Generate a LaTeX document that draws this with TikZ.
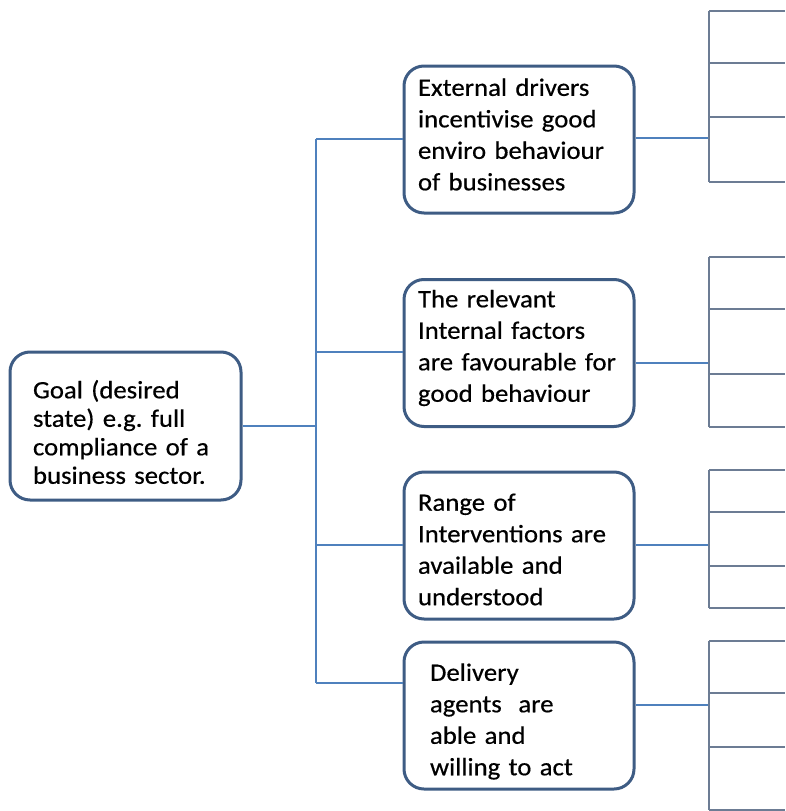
\documentclass[tikz,border=0pt]{standalone}
\usepackage{fontspec}
\setmainfont{Carlito}[FakeStretch=1.07, FakeBold=0.5]
\definecolor{boxblue}{RGB}{62,92,132}
\definecolor{linkblue}{RGB}{79,129,189}
\definecolor{stubgray}{RGB}{108,124,148}

\tikzset{
    goalbox/.style={draw=boxblue, line width=3pt, rounded corners=20pt, fill=white,
        minimum height=148pt, text width=185pt, inner xsep=23pt, align=left,
        font=\fontsize{25}{28.5}\selectfont},
    factorbox/.style={draw=boxblue, line width=3pt, rounded corners=20pt, fill=white,
        minimum height=147pt, text width=202pt, inner xsep=14pt, align=left,
        font=\fontsize{25}{31.5}\selectfont},
    textlift/.style={execute at end node={\par\vspace*{#1}}},
    link/.style={draw=linkblue, line width=1.3pt},
    stub/.style={draw=stubgray, line width=1.3pt}
}

\begin{document}
\begin{tikzpicture}[x=1pt, y=-1pt]
    \useasboundingbox (0,0) rectangle (785,811);
    % Goal and the four conditions.
    \begin{scope}
        \node[goalbox, textlift=-12pt] (goal) at (125.5,426) {Goal (desired\\state) e.g.\ full\\compliance of a\\business sector.};
        \node[factorbox, textlift=10pt] (drv) at (519,139.5) {External drivers\\incentivise good\\enviro behaviour\\of businesses};
        \node[factorbox, textlift=10pt] (intf) at (519,353) {The relevant\\Internal factors\\are favourable for\\good behaviour};
        \node[factorbox, textlift=-8pt] (intv) at (519,545.5) {Range of\\Interventions are\\available and\\understood};
        \node[factorbox, textlift=-12pt, text width=178pt, inner xsep=26pt] (agt) at (519,715.5) {Delivery\\agents\ \ are\\able and\\willing to act};
    \end{scope}
    % Tree links on the left.
    \coordinate (t1) at (316,139);
    \coordinate (t2) at (316,352);
    \coordinate (t3) at (316,545);
    \coordinate (t4) at (316,683);
    \draw[link] (goal.east) -- (goal.east -| t1);
    \draw[link] (t1) -- (t4);
    \foreach \t/\b in {t1/drv, t2/intf, t3/intv, t4/agt}
        \draw[link] (\t) -- (\t -| \b.west);
    % Links to the cut-off columns on the right.
    \coordinate (s1) at (709,138);
    \coordinate (s2) at (709,363);
    \coordinate (s3) at (709,545);
    \coordinate (s4) at (709,705);
    \foreach \s/\b in {s1/drv, s2/intf, s3/intv, s4/agt}
        \draw[link] (\s -| \b.east) -- (\s);
    \foreach \ya/\yb/\yc/\yd in {11/63/117/182, 257/309/374/427, 470/512/566/608, 641/693/747/810}
        \draw[stub] (709,\ya) -- (709,\yd)
            (709,\ya) -- (785,\ya) (709,\yb) -- (785,\yb)
            (709,\yc) -- (785,\yc) (709,\yd) -- (785,\yd);
\end{tikzpicture}
\end{document}
